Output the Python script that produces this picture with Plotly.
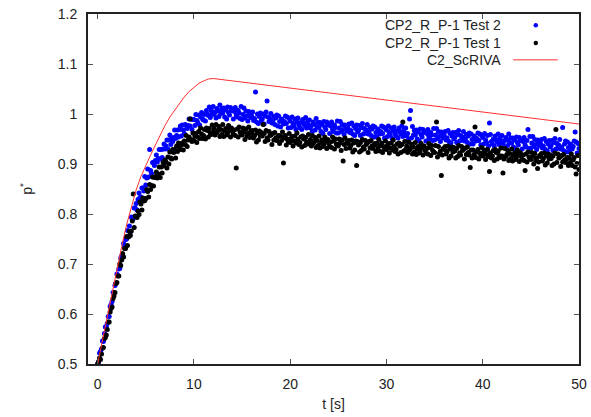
import plotly.graph_objects as go

# ---------------- data ----------------
# sampling grid of the two experiments (every 0.1 s, 0 .. 50 s)
sample_step = 0.1
time_s = [round(i * sample_step, 1) for i in range(501)]

test2 = [  # CP2_R_P-1 Test 2 (blue), one row per second
    0.500, 0.504, 0.522, 0.525, 0.530, 0.546, 0.545, 0.561, 0.574, 0.575,
    0.581, 0.595, 0.595, 0.615, 0.619, 0.625, 0.643, 0.641, 0.657, 0.662,
    0.680, 0.677, 0.690, 0.691, 0.712, 0.716, 0.717, 0.741, 0.736, 0.749,
    0.750, 0.767, 0.755, 0.776, 0.764, 0.794, 0.789, 0.791, 0.812, 0.812,
    0.821, 0.808, 0.829, 0.842, 0.833, 0.834, 0.852, 0.852, 0.846, 0.875,
    0.858, 0.872, 0.890, 0.874, 0.929, 0.887, 0.881, 0.903, 0.902, 0.897,
    0.907, 0.918, 0.904, 0.911, 0.929, 0.910, 0.929, 0.913, 0.930, 0.940,
    0.930, 0.936, 0.948, 0.930, 0.948, 0.958, 0.939, 0.952, 0.945, 0.953,
    0.968, 0.951, 0.957, 0.968, 0.954, 0.969, 0.976, 0.956, 0.978, 0.968,
    0.961, 0.979, 0.977, 0.971, 0.977, 0.990, 0.976, 0.990, 0.969, 0.989,
    0.989, 0.977, 0.999, 0.987, 0.983, 0.998, 0.978, 0.994, 1.003, 0.990,
    0.988, 0.999, 0.986, 1.007, 1.000, 0.997, 1.014, 0.993, 1.007, 1.000,
    1.015, 0.999, 1.004, 0.992, 1.011, 1.006, 0.995, 1.018, 1.001, 1.010,
    1.002, 1.012, 0.994, 1.008, 0.990, 1.014, 1.003, 0.998, 1.013, 1.007,
    1.008, 0.990, 1.005, 1.013, 0.998, 0.994, 1.007, 1.002, 0.991, 1.015,
    0.989, 0.999, 1.012, 0.992, 1.006, 0.996, 0.986, 1.005, 1.001, 0.993,
    0.996, 1.004, 0.987, 0.991, 1.044, 0.984, 1.000, 0.981, 0.995, 1.002,
    0.987, 0.990, 1.000, 0.980, 0.996, 1.004, 1.026, 0.994, 0.985, 0.991,
    1.001, 0.982, 0.986, 0.995, 0.979, 0.992, 0.998, 0.976, 0.996, 0.985,
    0.974, 0.990, 0.987, 0.980, 0.985, 0.996, 0.981, 0.994, 0.972, 0.991,
    0.986, 0.973, 0.994, 0.981, 0.976, 0.990, 0.969, 0.984, 0.992, 0.978,
    0.973, 0.983, 0.969, 0.989, 0.981, 0.977, 0.993, 0.972, 0.985, 0.978,
    0.988, 0.972, 0.977, 0.965, 0.984, 0.979, 0.968, 0.991, 0.974, 0.983,
    0.973, 0.983, 0.965, 0.979, 0.961, 0.985, 0.974, 0.969, 0.984, 0.978,
    0.979, 0.961, 0.976, 0.984, 0.969, 0.965, 0.978, 0.973, 0.962, 0.986,
    0.962, 0.972, 0.985, 0.965, 0.979, 0.969, 0.959, 0.978, 0.974, 0.966,
    0.972, 0.980, 0.963, 0.967, 0.982, 0.960, 0.976, 0.957, 0.971, 0.978,
    0.964, 0.967, 0.977, 0.957, 0.973, 0.981, 0.960, 0.971, 0.962, 0.968,
    0.979, 0.960, 0.964, 0.973, 0.957, 0.970, 0.976, 0.954, 0.974, 0.963,
    0.954, 0.970, 0.967, 0.960, 0.965, 0.976, 0.961, 0.974, 0.952, 0.971,
    0.968, 0.955, 0.976, 0.963, 0.958, 0.972, 0.951, 0.966, 0.974, 0.960,
    0.956, 0.966, 0.952, 0.972, 0.964, 0.960, 0.976, 0.955, 0.968, 0.961,
    0.972, 0.956, 0.961, 0.949, 0.990, 1.007, 0.952, 0.975, 0.958, 0.967,
    0.958, 0.968, 0.950, 0.964, 0.946, 0.970, 0.959, 0.954, 0.969, 0.963,
    0.964, 0.946, 0.961, 0.969, 0.954, 0.950, 0.963, 0.958, 0.947, 0.971,
    0.948, 0.958, 0.971, 0.951, 0.965, 0.955, 0.945, 0.964, 0.960, 0.952,
    0.957, 0.965, 0.948, 0.952, 0.967, 0.945, 0.961, 0.942, 0.956, 0.963,
    0.950, 0.953, 0.963, 0.943, 0.959, 0.967, 0.946, 0.957, 0.948, 0.954,
    0.965, 0.946, 0.950, 0.959, 0.943, 0.956, 0.962, 0.940, 0.960, 0.949,
    0.940, 0.956, 0.953, 0.946, 0.951, 0.962, 0.947, 0.960, 0.938, 0.957,
    0.953, 0.940, 0.961, 0.948, 0.943, 0.957, 0.936, 0.982, 0.959, 0.945,
    0.940, 0.950, 0.936, 0.956, 0.948, 0.944, 0.960, 0.939, 0.952, 0.945,
    0.957, 0.941, 0.946, 0.934, 0.953, 0.948, 0.937, 0.960, 0.943, 0.952,
    0.942, 0.952, 0.934, 0.948, 0.930, 0.954, 0.943, 0.938, 0.953, 0.947,
    0.948, 0.930, 0.945, 0.953, 0.938, 0.934, 0.947, 0.969, 0.931, 0.955,
    0.932, 0.942, 0.955, 0.935, 0.949, 0.939, 0.929, 0.948, 0.944, 0.936,
    0.941, 0.949, 0.932, 0.936, 0.951, 0.929, 0.945, 0.926, 0.940, 0.947,
    0.934, 0.937, 0.947, 0.927, 0.943, 0.951, 0.930, 0.941, 0.932, 0.938,
    0.949, 0.930, 0.934, 0.973, 0.927, 0.940, 0.946, 0.924, 0.944, 0.933,
    0.924, 0.940, 0.937, 0.930, 0.935, 0.946, 0.964, 0.944, 0.922, 0.941,
    0.931,
]

test1 = [  # CP2_R_P-1 Test 1 (black), one row per second
    0.500, 0.505, 0.512, 0.509, 0.520, 0.532, 0.533, 0.551, 0.553, 0.558,
    0.569, 0.584, 0.584, 0.604, 0.611, 0.614, 0.631, 0.636, 0.643, 0.661,
    0.663, 0.676, 0.676, 0.700, 0.697, 0.708, 0.721, 0.714, 0.731, 0.731,
    0.755, 0.737, 0.754, 0.765, 0.757, 0.766, 0.786, 0.840, 0.773, 0.796,
    0.795, 0.793, 0.806, 0.799, 0.824, 0.820, 0.808, 0.832, 0.826, 0.827,
    0.831, 0.849, 0.845, 0.834, 0.859, 0.849, 0.857, 0.874, 0.856, 0.873,
    0.875, 0.884, 0.872, 0.880, 0.894, 0.873, 0.894, 0.882, 0.903, 0.896,
    0.908, 0.904, 0.892, 0.914, 0.900, 0.924, 0.912, 0.910, 0.929, 0.923,
    0.929, 0.912, 0.936, 0.925, 0.942, 0.933, 0.929, 0.938, 0.942, 0.928,
    0.946, 0.939, 0.957, 0.935, 0.948, 0.954, 0.990, 0.949, 0.945, 0.962,
    0.947, 0.956, 0.961, 0.943, 0.954, 0.965, 0.951, 0.972, 0.960, 0.951,
    0.957, 0.969, 0.950, 0.972, 0.967, 0.954, 0.971, 0.962, 0.959, 0.978,
    0.964, 0.971, 0.958, 0.979, 0.963, 0.967, 0.975, 0.955, 0.969, 0.959,
    0.979, 0.955, 0.966, 0.971, 0.958, 0.962, 0.977, 0.969, 0.954, 0.972,
    0.965, 0.959, 0.968, 0.957, 0.892, 0.970, 0.954, 0.974, 0.964, 0.961,
    0.958, 0.972, 0.964, 0.949, 0.970, 0.956, 0.961, 0.974, 0.953, 0.966,
    0.961, 0.967, 0.952, 0.957, 0.968, 0.944, 0.962, 0.948, 0.966, 0.956,
    0.963, 0.956, 0.979, 0.961, 0.945, 0.967, 0.952, 0.948, 0.965, 0.957,
    0.958, 0.939, 0.961, 0.948, 0.963, 0.952, 0.947, 0.954, 0.957, 0.941,
    0.956, 0.947, 0.964, 0.902, 0.952, 0.957, 0.938, 0.950, 0.945, 0.961,
    0.943, 0.951, 0.955, 0.936, 0.946, 0.956, 0.942, 0.962, 0.949, 0.939,
    0.943, 0.954, 0.934, 0.956, 0.950, 0.937, 0.953, 0.944, 0.940, 0.959,
    0.942, 0.949, 0.936, 0.957, 0.941, 0.945, 0.953, 0.933, 0.947, 0.937,
    0.956, 0.932, 0.943, 0.948, 0.935, 0.939, 0.954, 0.946, 0.931, 0.949,
    0.941, 0.935, 0.944, 0.933, 0.954, 0.946, 0.930, 0.950, 0.940, 0.937,
    0.936, 0.950, 0.942, 0.927, 0.948, 0.906, 0.939, 0.952, 0.931, 0.944,
    0.941, 0.947, 0.932, 0.937, 0.948, 0.924, 0.942, 0.928, 0.946, 0.897,
    0.945, 0.938, 0.924, 0.943, 0.927, 0.949, 0.934, 0.930, 0.947, 0.939,
    0.942, 0.923, 0.945, 0.932, 0.947, 0.936, 0.931, 0.938, 0.941, 0.925,
    0.941, 0.932, 0.949, 0.926, 0.937, 0.942, 0.923, 0.935, 0.930, 0.946,
    0.929, 0.937, 0.941, 0.922, 0.932, 0.942, 0.928, 0.948, 0.935, 0.925,
    0.929, 0.940, 0.920, 0.942, 0.936, 0.923, 0.939, 0.984, 0.926, 0.945,
    0.929, 0.936, 0.923, 0.944, 0.928, 0.932, 0.940, 0.920, 0.934, 0.924,
    0.943, 0.919, 0.930, 0.935, 0.922, 0.926, 0.941, 0.933, 0.918, 0.936,
    0.928, 0.922, 0.931, 0.920, 0.941, 0.933, 0.917, 0.937, 0.927, 0.924,
    0.923, 0.937, 0.984, 0.914, 0.935, 0.921, 0.926, 0.877, 0.918, 0.931,
    0.929, 0.935, 0.920, 0.925, 0.936, 0.912, 0.930, 0.916, 0.934, 0.924,
    0.933, 0.926, 0.912, 0.931, 0.915, 0.937, 0.922, 0.918, 0.935, 0.927,
    0.929, 0.910, 0.932, 0.919, 0.934, 0.923, 0.918, 0.893, 0.928, 0.912,
    0.928, 0.919, 0.974, 0.913, 0.924, 0.929, 0.910, 0.922, 0.917, 0.933,
    0.916, 0.924, 0.928, 0.909, 0.919, 0.929, 0.915, 0.885, 0.922, 0.912,
    0.916, 0.927, 0.907, 0.929, 0.923, 0.910, 0.926, 0.917, 0.913, 0.932,
    0.916, 0.882, 0.910, 0.931, 0.915, 0.919, 0.927, 0.907, 0.921, 0.911,
    0.930, 0.906, 0.917, 0.922, 0.909, 0.913, 0.928, 0.920, 0.905, 0.923,
    0.915, 0.909, 0.918, 0.907, 0.887, 0.920, 0.904, 0.924, 0.914, 0.911,
    0.909, 0.923, 0.915, 0.900, 0.921, 0.907, 0.912, 0.891, 0.904, 0.917,
    0.915, 0.921, 0.906, 0.911, 0.922, 0.898, 0.916, 0.902, 0.920, 0.910,
    0.918, 0.911, 0.897, 0.916, 0.900, 0.922, 0.969, 0.903, 0.920, 0.912,
    0.914, 0.895, 0.917, 0.904, 0.919, 0.908, 0.903, 0.910, 0.913, 0.897,
    0.912, 0.903, 0.920, 0.897, 0.908, 0.913, 0.894, 0.880, 0.901, 0.917,
    0.889,
]

model_t = [0, 0.5, 1, 1.5, 2, 2.5, 3, 3.5, 4, 4.5, 5, 5.5, 6, 6.5, 7, 7.5,
           8, 8.5, 9, 9.5, 10, 10.5, 11, 11.5, 12, 50]
model_p = [0.500, 0.548, 0.597, 0.645, 0.690, 0.735, 0.778, 0.815, 0.848,
           0.875, 0.898, 0.918, 0.938, 0.958, 0.977, 0.994, 1.008, 1.022,
           1.034, 1.045, 1.054, 1.061, 1.066, 1.070, 1.071, 0.980]

names = ["CP2_R_P-1 Test 2", "CP2_R_P-1 Test 1", "C2_ScRIVA"]
colors = ["#0000ff", "#000000", "#ff3030"]
x_ticks = [0, 10, 20, 30, 40, 50]
y_ticks = [0.5, 0.6, 0.7, 0.8, 0.9, 1.0, 1.1, 1.2]

FONT = "Liberation Sans, Arial, sans-serif"
TXT = "#222222"

fig = go.Figure()
fig.add_trace(go.Scatter(x=time_s, y=test2, mode="markers", name=names[0],
                         marker=dict(color=colors[0], size=5, line=dict(width=0))))
fig.add_trace(go.Scatter(x=time_s, y=test1, mode="markers", name=names[1],
                         marker=dict(color=colors[1], size=5, line=dict(width=0))))
fig.add_trace(go.Scatter(x=model_t, y=model_p, mode="lines", name=names[2],
                         line=dict(color=colors[2], width=1)))

# gnuplot-style key: text right-aligned, sample to the right
key_rows = [0.968, 0.917, 0.869]
annotations = []
shapes = []
for i, nm in enumerate(names):
    annotations.append(dict(text=nm, xref="paper", yref="paper", x=0.845, y=key_rows[i],
                            xanchor="right", yanchor="middle", showarrow=False,
                            font=dict(family=FONT, size=14, color=TXT)))
for i in range(2):
    shapes.append(dict(type="circle", xref="paper", yref="paper",
                       x0=0.912 - 0.0045, x1=0.912 + 0.0045,
                       y0=key_rows[i] - 0.0065, y1=key_rows[i] + 0.0065,
                       fillcolor=colors[i], line=dict(width=0)))
shapes.append(dict(type="line", xref="paper", yref="paper", x0=0.866, x1=0.957,
                   y0=key_rows[2], y1=key_rows[2], line=dict(color=colors[2], width=1)))

axis_common = dict(showline=True, mirror="ticks", linecolor=TXT, linewidth=1.8,
                   ticks="inside", ticklen=5, tickwidth=1, tickcolor="#555555",
                   showgrid=False, zeroline=False, automargin=False,
                   tickfont=dict(family=FONT, size=14, color=TXT))

fig.update_layout(
    width=591, height=417,
    margin=dict(l=88, r=12, t=14, b=53, pad=0),
    paper_bgcolor="white", plot_bgcolor="white",
    showlegend=False,
    annotations=annotations, shapes=shapes,
    xaxis=dict(range=[-1, 50], tickvals=x_ticks, ticklabelstandoff=6,
               title=dict(text="t [s]", font=dict(family=FONT, size=14, color=TXT),
                          standoff=8),
               **axis_common),
    yaxis=dict(range=[0.5, 1.2], tickvals=y_ticks, ticklabelstandoff=6,
               title=dict(text="p<sup>*</sup>", font=dict(family=FONT, size=14, color=TXT),
                          standoff=22),
               **axis_common),
)

fig.write_html("out.html")
